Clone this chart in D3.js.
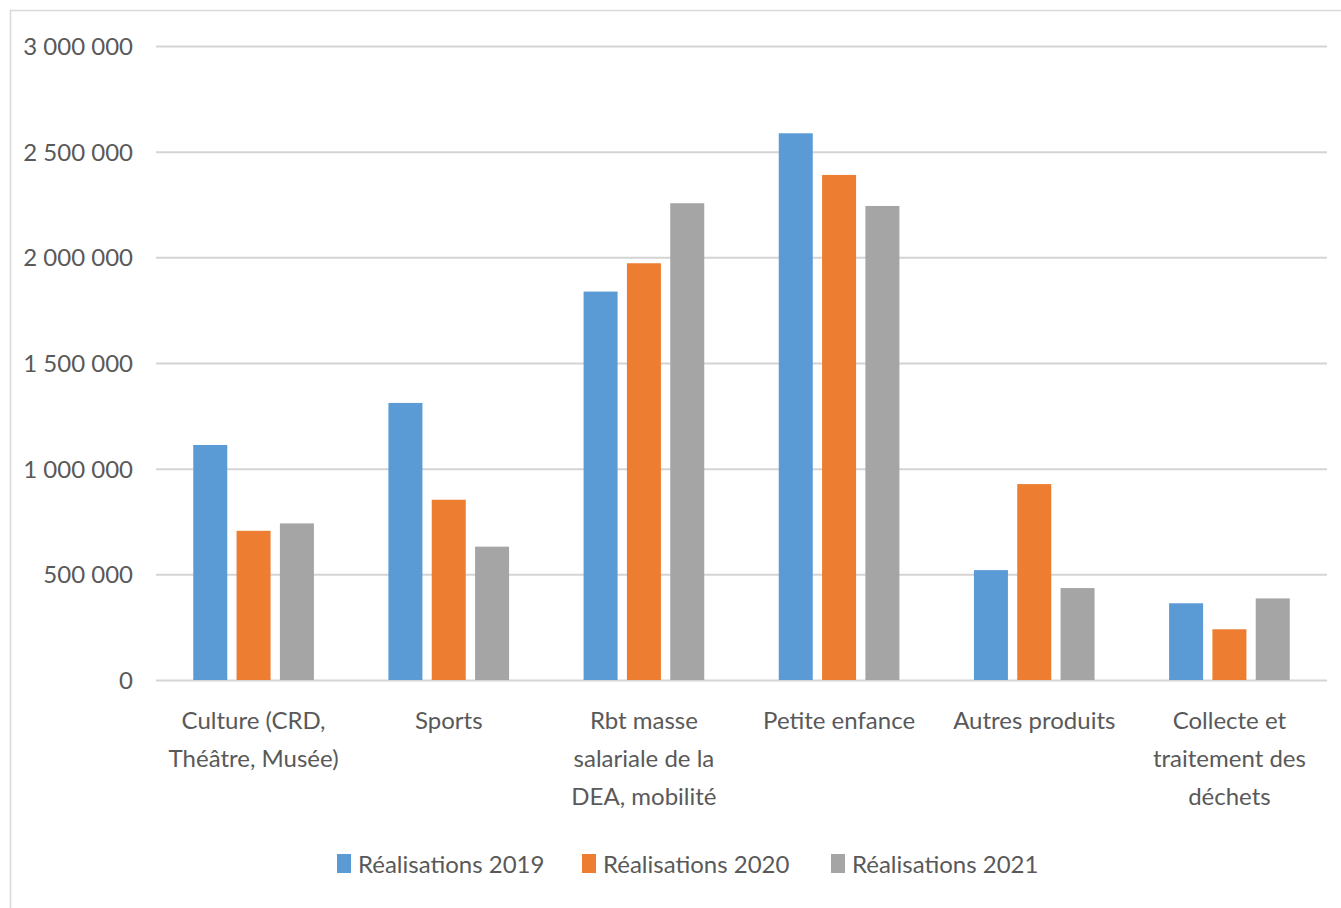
<!DOCTYPE html>
<html>
<head>
<meta charset="utf-8">
<script src="https://cdn.jsdelivr.net/npm/d3@7"></script>
<style>
  body { margin: 0; background: #fff; }
  text { font-family: Lato, "Open Sans", sans-serif; fill: #595959; }
</style>
</head>
<body>
<div id="app"></div>
<script>
// Chart data
const categories = [
  ["Culture (CRD,", "Théâtre, Musée)"],
  ["Sports"],
  ["Rbt masse", "salariale de la", "DEA, mobilité"],
  ["Petite enfance"],
  ["Autres produits"],
  ["Collecte et", "traitement des", "déchets"]
];
const series = ["Réalisations 2019", "Réalisations 2020", "Réalisations 2021"];
const values2019 = [1112000, 1311000, 1838000, 2587000, 520000, 363000];
const values2020 = [706000, 853000, 1972000, 2390000, 927000, 240000];
const values2021 = [741000, 631000, 2256000, 2243000, 435000, 386000];
const yTicks = [0, 500000, 1000000, 1500000, 2000000, 2500000, 3000000];
const colors = ["#5b9bd5", "#ed7d31", "#a5a5a5"];

const width = 1341, height = 908;
const margin = { top: 46, right: 14, bottom: 228, left: 156 };

const d3 = window.d3;
const svg = d3.select("#app").append("svg")
  .attr("width", width).attr("height", height);

// chart frame (cut off on the right and bottom)
svg.append("rect")
  .attr("x", 10.5).attr("y", 10.5)
  .attr("width", width + 10).attr("height", height + 10)
  .attr("fill", "none").attr("stroke", "#d9d9d9").attr("stroke-width", 1.5);

const rows = categories.map((c, i) => ({
  key: i, label: c, vals: [values2019[i], values2020[i], values2021[i]]
}));

const x0 = d3.scaleBand()
  .domain(rows.map(d => d.key))
  .range([margin.left, width - margin.right]);

const x1 = d3.scaleBand()
  .domain(d3.range(series.length))
  .range([0, x0.bandwidth()])
  .paddingInner(0.215)
  .paddingOuter(0.86);

const y = d3.scaleLinear()
  .domain([0, 3000000])
  .range([height - margin.bottom, margin.top]);

const fmt = v => d3.format(",")(v).replace(/,/g, " ");

// gridlines + y labels
const yAxis = svg.append("g")
  .attr("transform", `translate(${margin.left},0)`)
  .call(d3.axisLeft(y).tickValues(yTicks).tickSize(-(width - margin.left - margin.right)).tickFormat(fmt));
yAxis.select(".domain").remove();
yAxis.selectAll(".tick line").attr("stroke", "#d4d4d4").attr("stroke-width", 2);
yAxis.selectAll(".tick text")
  .attr("x", -23).attr("dy", "0.36em")
  .style("font-size", "24px").style("font-family", "Lato, sans-serif").attr("fill", "#595959");

// bars
svg.append("g")
  .selectAll("g")
  .data(rows)
  .join("g")
  .attr("transform", d => `translate(${x0(d.key)},0)`)
  .selectAll("rect")
  .data(d => d.vals.map((v, i) => ({ v, i })))
  .join("rect")
  .attr("x", d => x1(d.i))
  .attr("width", x1.bandwidth())
  .attr("y", d => y(d.v))
  .attr("height", d => y(0) - y(d.v))
  .attr("fill", d => colors[d.i]);

// category labels
const catLabels = svg.append("g")
  .selectAll("text")
  .data(rows)
  .join("text")
  .attr("text-anchor", "middle")
  .attr("font-size", "24px")
  .attr("transform", d => `translate(${x0(d.key) + x0.bandwidth() / 2},729)`);
catLabels.selectAll("tspan")
  .data(d => d.label)
  .join("tspan")
  .attr("x", 0)
  .attr("y", (d, i) => i * 38)
  .text(d => d);

// legend
const legendX = [337, 582, 831];
const legend = svg.append("g")
  .selectAll("g")
  .data(series)
  .join("g")
  .attr("transform", (d, i) => `translate(${legendX[i]},854)`);
legend.append("rect")
  .attr("width", 14).attr("height", 19)
  .attr("fill", (d, i) => colors[i]);
legend.append("text")
  .attr("x", 21).attr("y", 19)
  .attr("font-size", "24px")
  .text(d => d);
</script>
</body>
</html>
